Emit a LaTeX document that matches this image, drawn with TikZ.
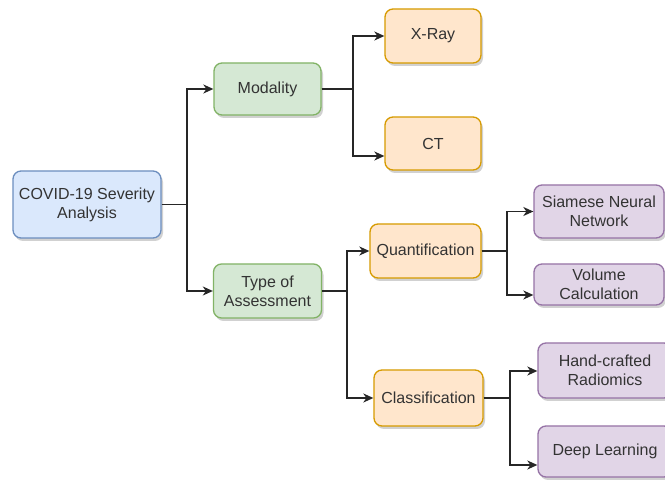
\documentclass[tikz,border=0pt]{standalone}
\usepackage{fontspec}
\setmainfont{Liberation Sans}
\usetikzlibrary{arrows.meta,shadows}
\definecolor{txt}{HTML}{333333}
\definecolor{bfill}{HTML}{DAE8FC}\definecolor{bdraw}{HTML}{6C8EBF}
\definecolor{gfill}{HTML}{D5E8D4}\definecolor{gdraw}{HTML}{82B366}
\definecolor{ofill}{HTML}{FFE6CC}\definecolor{odraw}{HTML}{D79B00}
\definecolor{pfill}{HTML}{E1D5E7}\definecolor{pdraw}{HTML}{9673A6}
\tikzset{
  box/.style={rectangle, rounded corners=8pt, line width=1.3pt, align=center,
    text=txt, inner sep=0pt, font=\fontsize{16}{19}\selectfont,
    drop shadow={shadow xshift=2pt, shadow yshift=-3pt, opacity=0.18, fill=black}},
  bluebox/.style={box, fill=bfill, draw=bdraw},
  greenbox/.style={box, fill=gfill, draw=gdraw},
  orangebox/.style={box, fill=ofill, draw=odraw},
  purplebox/.style={box, fill=pfill, draw=pdraw},
  conn/.style={line width=1.3pt, draw=black!85},
  arr/.style={conn, -{Stealth[length=10pt,width=9pt,inset=3pt]}}
}
\begin{document}
\begin{tikzpicture}[x=1pt,y=-1pt]
\useasboundingbox (0,0) rectangle (665,481);
\clip (0,0) rectangle (665,481);
\fill[white] (0,0) rectangle (665,481);

\node[bluebox, minimum width=148pt, minimum height=67pt] (root) at (87,204.5) {COVID-19 Severity\\Analysis};
\node[greenbox, minimum width=107pt, minimum height=52pt] (mod) at (267.5,89) {Modality};
\node[greenbox, minimum width=108pt, minimum height=54pt] (toa) at (267.5,291) {Type of\\Assessment};
\node[orangebox, minimum width=96pt, minimum height=54pt] (xray) at (433,36) {X-Ray};
\node[orangebox, minimum width=96pt, minimum height=53pt] (ct) at (433,143.5) {CT};
\node[orangebox, minimum width=111pt, minimum height=54pt] (quant) at (425.5,251) {Quantification};
\node[orangebox, minimum width=109pt, minimum height=56pt] (class) at (428.5,398) {Classification};
\node[purplebox, minimum width=130pt, minimum height=53pt] (siam) at (599,211.5) {Siamese Neural\\Network};
\node[purplebox, minimum width=130pt, minimum height=41pt] (vol) at (599,284.5) {Volume\\Calculation};
\node[purplebox, minimum width=134pt, minimum height=55pt] (hand) at (605,370.5) {Hand-crafted\\Radiomics};
\node[purplebox, minimum width=134pt, minimum height=51pt] (deep) at (605,451.5) {Deep Learning};

\draw[arr] (root.east) -- (187,204.5) |- (mod.west);
\draw[arr] (root.east) -- (187,204.5) |- (toa.west);
\draw[arr] (mod.east) -- (353,89) |- (xray.west);
\draw[arr] (mod.east) -- (353,89) |- ([yshift=-12.5pt]ct.west);
\draw[arr] (toa.east) -- (347,291) |- (quant.west);
\draw[arr] (toa.east) -- (347,291) |- (class.west);
\draw[arr] (quant.east) -- (507,251) |- (siam.west);
\draw[arr] (quant.east) -- (507,251) |- ([yshift=-10.5pt]vol.west);
\draw[arr] (class.east) -- (510,398) |- ([yshift=-0.5pt]hand.west);
\draw[arr] (class.east) -- (510,398) |- ([yshift=-13.5pt]deep.west);
\end{tikzpicture}
\end{document}
